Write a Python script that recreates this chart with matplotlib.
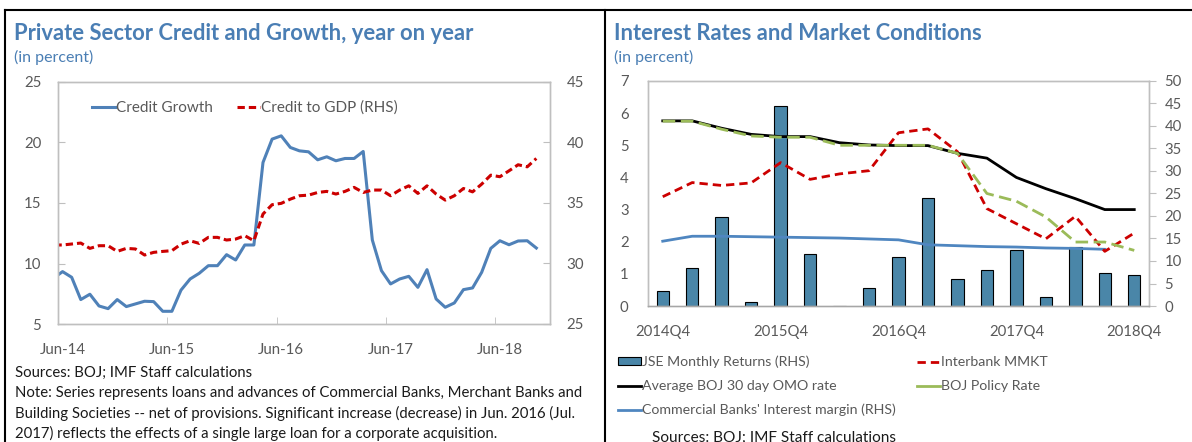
import numpy as np
import matplotlib
matplotlib.use('Agg')
import matplotlib.pyplot as plt
from matplotlib.lines import Line2D

plt.rcParams['font.family'] = ['Lato', 'DejaVu Sans']

TITLE_COLOR = '#4a7eb4'
TICK_COLOR = '#595959'
FRAME_COLOR = '#bfbfbf'

# ---- left panel data (monthly, May-14 .. Nov-18; May-14 sits off the left edge)
credit_growth = [8.78, 8.78, 9.33, 8.86, 7.02, 7.46, 6.49, 6.27, 7.02, 6.44, 6.66, 6.88,
                 6.85, 6.05, 6.05, 7.80, 8.72, 9.19, 9.82, 9.82, 10.73, 10.29, 11.53,
                 11.53, 18.35, 20.28, 20.55, 19.59, 19.31, 19.23, 18.57, 18.82, 18.49,
                 18.68, 18.68, 19.26, 11.94, 9.41, 8.31, 8.72, 8.94, 8.03, 9.49, 7.07,
                 6.38, 6.74, 7.84, 7.98, 9.27, 11.25, 11.88, 11.55, 11.86, 11.88, 11.28]
credit_to_gdp = [31.13, 31.53, 31.53, 31.61, 31.69, 31.25, 31.47, 31.47, 31.00, 31.25,
                 31.20, 30.70, 30.92, 31.00, 31.06, 31.60, 31.88, 31.66, 32.16, 32.16,
                 31.94, 32.02, 32.30, 31.88, 34.09, 34.86, 34.97, 35.32, 35.60, 35.65,
                 35.87, 35.96, 35.74, 35.96, 36.29, 35.87, 36.07, 36.07, 35.60, 36.07,
                 36.42, 35.79, 36.42, 35.74, 35.24, 35.60, 36.20, 35.92, 36.56, 37.30,
                 37.17, 37.66, 38.16, 37.99, 38.68]
left_ticks = ['Jun-14', 'Jun-15', 'Jun-16', 'Jun-17', 'Jun-18']

# ---- right panel data (quarterly, 2014Q4 .. 2018Q4)
quarters = ['2014Q4', '2015Q1', '2015Q2', '2015Q3', '2015Q4', '2016Q1', '2016Q2',
            '2016Q3', '2016Q4', '2017Q1', '2017Q2', '2017Q3', '2017Q4', '2018Q1',
            '2018Q2', '2018Q3', '2018Q4']
jse_returns = [3.4, 8.5, 19.7, 0.9, 44.4, 11.5, 0.1, 3.9, 10.9, 24.0, 5.9, 7.9, 12.4,
               2.1, 13.1, 7.4, 6.8]
interbank = [3.40, 3.84, 3.75, 3.83, 4.46, 3.94, 4.11, 4.21, 5.39, 5.51, 4.80, 3.03,
             2.56, 2.09, 2.79, 1.70, 2.27]
omo_rate = [5.76, 5.76, 5.53, 5.34, 5.27, 5.27, 5.08, 5.01, 4.99, 4.99, 4.75, 4.60,
            4.00, 3.65, 3.34, 3.00, 3.00]
policy_rate = [5.75, 5.75, 5.50, 5.29, 5.25, 5.25, 5.00, 5.00, 5.00, 5.00, 4.75, 3.50,
               3.26, 2.77, 1.99, 1.99, 1.73]
bank_margin = [14.4, 15.5, 15.5, 15.4, 15.3, 15.2, 15.1, 14.9, 14.7, 13.6, 13.4, 13.2,
               13.1, 12.9, 12.8, 12.6]

W, H = 1192, 442
fig = plt.figure(figsize=(W / 100, H / 100), dpi=100)
renderer = fig.canvas.get_renderer()


def size_for(s, target_px, **kw):
    # font size that makes the string target_px wide
    t = fig.text(0, 0, s, fontsize=10, **kw)
    w = t.get_window_extent(renderer).width
    t.remove()
    return 10 * target_px / w


def px_axes(x0, y0, x1, y1):
    return fig.add_axes([x0 / W, 1 - y1 / H, (x1 - x0) / W, (y1 - y0) / H])


def style_axes(ax, size):
    for s in ax.spines.values():
        s.set_color(FRAME_COLOR)
        s.set_linewidth(1.0)
    ax.tick_params(which='both', colors=FRAME_COLOR, labelcolor=TICK_COLOR, labelsize=size)


def legend_entry(handle, label, x, y, size):
    leg = fig.legend([handle], [label], loc='center left',
                     bbox_to_anchor=(x / W, 1 - y / H), frameon=False, fontsize=size,
                     labelcolor=TICK_COLOR, borderpad=0, borderaxespad=0,
                     handlelength=23 / (size * 100 / 72), handleheight=0.45,
                     handletextpad=0.08)
    return leg


# frame lines
for (xa, ya, xb, yb) in [(5, 10, W, 10), (5, 10, 5, H), (605, 10, 605, H)]:
    fig.add_artist(Line2D([xa / W, xb / W], [1 - ya / H, 1 - yb / H],
                          color='black', lw=1.5, transform=fig.transFigure))

title_fs = size_for('Private Sector Credit and Growth, year on year', 460, fontweight='bold')
sub_fs = size_for('(in percent)', 80)
note_fs = size_for('Note: Series represents loans and advances of Commercial Banks, '
                   'Merchant Banks and', 568)
left_tick_fs = size_for('Jun-14', 46)
right_tick_fs = size_for('2014Q4', 55)
left_leg_fs = size_for('Credit Growth', 97)
right_leg_fs = size_for("Commercial Banks' Interest margin (RHS)", 253)

# ---------------- left panel
ax = px_axes(58, 82, 550, 324)
axr = ax.twinx()
xm = np.arange(len(credit_growth)) - 1.5
ax.plot(xm, credit_growth, color='#4f81b8', lw=2.2, label='Credit Growth')
axr.plot(xm, credit_to_gdp, color='#cc0000', lw=2.2, ls=(0, (2.4, 1.3)),
         label='Credit to GDP (RHS)')
ax.set_xlim(0, 54)
ax.set_ylim(5, 25)
axr.set_ylim(25, 45)
ax.set_yticks([5, 10, 15, 20, 25])
axr.set_yticks([25, 30, 35, 40, 45])
ax.set_xticks([0.5, 12.5, 24.5, 36.5, 48.5])
ax.set_xticklabels(left_ticks)
ax.set_xticks([0, 12, 24, 36, 48], minor=True)
for a in (ax, axr):
    style_axes(a, left_tick_fs)
ax.tick_params(axis='y', direction='in', length=5, pad=12)
ax.tick_params(axis='x', which='major', length=0, pad=14)
ax.tick_params(axis='x', which='minor', direction='in', length=5)
axr.tick_params(axis='y', direction='in', length=5, pad=12)
h1, l1 = ax.get_legend_handles_labels()
h2, l2 = axr.get_legend_handles_labels()
legend_entry(h1[0], l1[0], 92, 108, left_leg_fs)
legend_entry(h2[0], l2[0], 237, 108, left_leg_fs)

fig.text(14 / W, 1 - 33 / H, 'Private Sector Credit and Growth, year on year',
         color=TITLE_COLOR, fontsize=title_fs, fontweight='bold', va='center')
fig.text(14 / W, 1 - 57 / H, '(in percent)', color=TITLE_COLOR, fontsize=sub_fs,
         va='center')
notes = ['Sources: BOJ; IMF Staff calculations',
         'Note: Series represents loans and advances of Commercial Banks, Merchant Banks and',
         'Building Societies -- net of provisions. Significant increase (decrease) in Jun. 2016 (Jul.',
         '2017) reflects the effects of a single large loan for a corporate acquisition.']
for i, line in enumerate(notes):
    fig.text(15 / W, 1 - (373 + i * 20) / H, line, color='#1a1a1a', fontsize=note_fs,
             va='center')

# ---------------- right panel
bx = px_axes(648, 81, 1149, 306)
bxr = bx.twinx()
xq = np.arange(len(quarters))
bxr.bar(xq, jse_returns, width=0.42, color='#4a86a8', edgecolor='black', lw=0.8,
        label='JSE Monthly Returns (RHS)', zorder=1)
bxr.plot(xq[:len(bank_margin)], bank_margin, color='#4f86c0', lw=2.0,
         label="Commercial Banks' Interest margin (RHS)", zorder=2)
bx.set_zorder(bxr.get_zorder() + 1)
bx.patch.set_visible(False)
bx.plot(xq, interbank, color='#cc0000', lw=2.0, ls=(0, (3, 1.8)), label='Interbank MMKT')
bx.plot(xq, omo_rate, color='black', lw=2.0, label='Average BOJ 30 day OMO rate')
bx.plot(xq, policy_rate, color='#9bbb59', lw=2.0, ls=(0, (4.5, 2)),
        label='BOJ Policy Rate')
bx.set_xlim(-0.5, 16.5)
bx.set_ylim(0, 7)
bxr.set_ylim(0, 50)
bx.set_yticks(range(0, 8))
bxr.set_yticks(range(0, 51, 5))
bx.set_xticks([0, 4, 8, 12, 16])
bx.set_xticklabels([quarters[i] for i in [0, 4, 8, 12, 16]])
for a in (bx, bxr):
    style_axes(a, right_tick_fs)
bx.spines['bottom'].set_color('#a6a6a6')
bx.tick_params(axis='x', length=0, pad=14)
bx.tick_params(axis='y', length=0, pad=14)
bxr.tick_params(axis='y', direction='out', length=5, pad=6)

hb, lb = bx.get_legend_handles_labels()
hr, lr = bxr.get_legend_handles_labels()
legend_entry(hr[1], lr[1], 618, 362, right_leg_fs)
legend_entry(hb[1], lb[1], 618, 386, right_leg_fs)
legend_entry(hr[0], lr[0], 618, 410, right_leg_fs)
legend_entry(hb[0], lb[0], 917, 362, right_leg_fs)
legend_entry(Line2D([], [], color='#9bbb59', lw=2.0), lb[2], 917, 386, right_leg_fs)

fig.text(614 / W, 1 - 33 / H, 'Interest Rates and Market Conditions',
         color=TITLE_COLOR, fontsize=title_fs, fontweight='bold', va='center')
fig.text(614 / W, 1 - 57 / H, '(in percent)', color=TITLE_COLOR, fontsize=sub_fs,
         va='center')
fig.text(652 / W, 1 - 431 / H, 'Sources: BOJ; IMF Staff calculations', color='#1a1a1a',
         fontsize=size_for('Sources: BOJ; IMF Staff calculations', 244), va='top')

fig.savefig('out.png', dpi=100)
